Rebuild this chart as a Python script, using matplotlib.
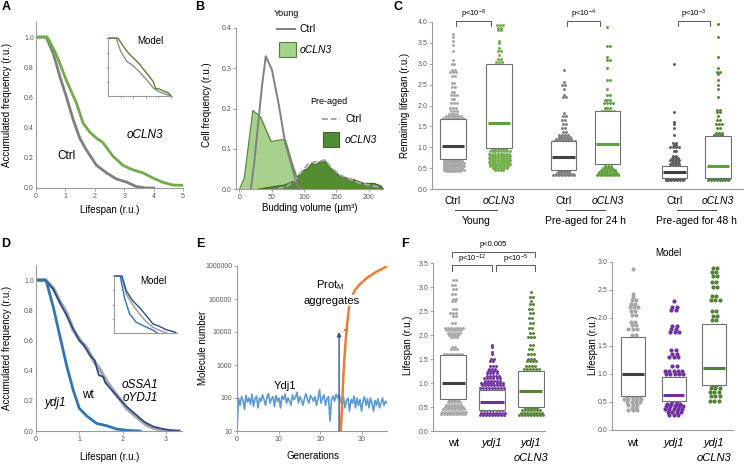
import matplotlib.pyplot as plt
import numpy as np
from matplotlib.lines import Line2D
from matplotlib.patches import Rectangle
from matplotlib.ticker import FormatStrFormatter, NullLocator

plt.rcParams['font.family'] = ['Liberation Sans', 'DejaVu Sans']
plt.rcParams['mathtext.fontset'] = 'custom'
plt.rcParams['mathtext.rm'] = 'Liberation Sans'
plt.rcParams['mathtext.it'] = 'Liberation Sans:italic'

# ---------------- data ----------------
# A: survival curves
a_ctrl_x = [0, 0.35, 0.59, 0.81, 1.04, 1.27, 1.49, 1.72, 2.06, 2.4, 2.73, 3.07, 3.41, 3.75, 4.0]
a_ctrl_y = [1, 1, 0.89, 0.74, 0.60, 0.45, 0.33, 0.25, 0.15, 0.10, 0.06, 0.04, 0.01, 0.0, 0.0]
a_cln3_x = [0, 0.38, 0.47, 0.7, 1.04, 1.38, 1.6, 1.83, 2.06, 2.28, 2.62, 2.96, 3.3, 3.64, 3.98, 4.32, 4.66, 4.94, 5.0]
a_cln3_y = [1, 1, 0.97, 0.88, 0.71, 0.56, 0.43, 0.37, 0.33, 0.30, 0.21, 0.15, 0.12, 0.10, 0.066, 0.037, 0.02, 0.018, 0.018]
# A inset (model, normalised)
ai_ctrl_x = [0, 0.13, 0.2, 0.3, 0.39, 0.5, 0.58, 0.65, 0.72, 0.8, 0.9, 1.0]
ai_ctrl_y = [1, 1, 0.78, 0.6, 0.53, 0.42, 0.32, 0.24, 0.14, 0.08, 0.04, 0.0]
ai_cln3_x = [0, 0.16, 0.25, 0.32, 0.39, 0.48, 0.56, 0.65, 0.72, 0.76, 0.82, 0.9, 0.97, 1.0]
ai_cln3_y = [1, 1, 0.85, 0.75, 0.67, 0.58, 0.47, 0.35, 0.25, 0.13, 0.12, 0.08, 0.05, 0.0]

# B: budding volume distributions
b_yc_x = [18, 23, 35, 41, 50.5, 61, 71, 81.5, 89, 98]
b_yc_y = [0, 0.064, 0.254, 0.33, 0.296, 0.21, 0.114, 0.055, 0.01, 0]
b_yo_x = [0.5, 7.7, 21, 32.5, 49, 63.5, 71, 81.5, 92, 97]
b_yo_y = [0, 0.027, 0.195, 0.18, 0.118, 0.122, 0.122, 0.064, 0.014, 0]
b_pc_x = [60, 75, 85, 95, 107, 120, 133, 141, 155, 170, 185, 200, 215]
b_pc_y = [0, 0.008, 0.02, 0.04, 0.064, 0.068, 0.072, 0.055, 0.035, 0.025, 0.015, 0.01, 0.005]
b_po_x = [30, 50, 70, 85, 97, 105, 112, 118, 125, 132, 141, 156, 177, 192, 208, 218, 222]
b_po_y = [0, 0.005, 0.01, 0.02, 0.045, 0.05, 0.064, 0.06, 0.068, 0.07, 0.051, 0.031, 0.023, 0.014, 0.014, 0.008, 0.0]

# C: remaining lifespan (levels / counts), box stats (q1, median, q3)
c_labels = ['Ctrl', 'oCLN3', 'Ctrl', 'oCLN3', 'Ctrl', 'oCLN3']
c_groups = ['Young', 'Pre-aged for 24 h', 'Pre-aged for 48 h']
c_pvals = [r'p<10$^{-8}$', r'p<10$^{-4}$', r'p<10$^{-3}$']
c_lv = [
    [0.42, 0.46, 0.50, 0.54, 0.58, 0.62, 0.66, 0.70, 0.9, 1.1, 1.3, 1.5, 1.70, 1.75, 1.8, 1.87, 1.95, 2.05, 2.15,
     2.25, 2.33, 2.45, 2.55, 2.7, 2.8, 2.85, 3.0, 3.1, 3.3, 3.45, 3.55, 3.65, 3.72],
    [0.45, 0.5, 0.55, 0.6, 0.65, 0.7, 0.75, 0.8, 0.85, 0.9, 0.95, 1.3, 1.8, 2.4, 3.05, 3.12, 3.2, 3.3, 3.37, 3.5,
     3.55, 3.8, 3.86, 3.92],
    [0.33, 0.36, 0.40, 0.43, 0.7, 1.15, 1.2, 1.25, 1.3, 1.37, 1.45, 1.55, 1.65, 1.75, 1.82, 2.2, 2.25, 2.4, 2.5,
     2.57, 2.85],
    [0.33, 0.37, 0.41, 0.45, 0.5, 0.55, 1.2, 1.88, 1.95, 2.05, 2.12, 2.25, 2.4, 2.6, 2.9, 3.1, 3.17, 3.42, 3.87],
    [0.21, 0.23, 0.25, 0.56, 0.6, 0.65, 0.7, 0.75, 0.8, 0.9, 1.0, 1.05, 1.1, 1.3, 1.45, 1.55, 1.6, 1.85, 3.0],
    [0.21, 0.23, 0.25, 0.8, 1.3, 1.35, 1.45, 1.55, 1.65, 1.75, 1.85, 1.9, 2.2, 2.4, 2.5, 2.6, 2.75, 2.8, 2.9,
     3.15, 3.65, 3.95],
]
c_ct = [
    [6, 8, 7, 8, 7, 8, 7, 6, 6, 6, 6, 5, 8, 6, 4, 3, 3, 3, 2, 3, 2, 2, 2, 2, 3, 2, 2, 1, 1, 1, 1, 1, 1],
    [4, 6, 7, 8, 8, 8, 8, 8, 8, 8, 6, 6, 6, 6, 3, 2, 1, 2, 1, 1, 1, 2, 2, 3],
    [8, 7, 5, 4, 6, 8, 6, 5, 4, 2, 2, 2, 2, 2, 1, 2, 1, 1, 2, 1, 1],
    [8, 8, 7, 6, 4, 3, 6, 5, 3, 4, 3, 2, 1, 2, 1, 2, 1, 2, 1],
    [7, 7, 4, 4, 4, 3, 4, 3, 2, 2, 4, 2, 2, 1, 1, 1, 1, 1, 1],
    [8, 8, 6, 6, 4, 3, 2, 3, 2, 1, 2, 2, 1, 1, 1, 1, 1, 2, 1, 1, 1, 1],
]
c_box = [(0.72, 1.04, 1.68), (0.98, 1.58, 2.99), (0.45, 0.77, 1.14),
         (0.60, 1.08, 1.88), (0.27, 0.40, 0.54), (0.26, 0.55, 1.27)]
c_dot_col = ['#a6a6a6', '#70ad47', '#7f7f7f', '#5fa03c', '#595959', '#4e8a2e']
c_med_col = ['#404040', '#5fa03c', '#404040', '#5fa03c', '#404040', '#5fa03c']

# D: survival curves
d_wt_x = [0, 0.22, 0.4, 0.55, 0.71, 0.86, 1.02, 1.17, 1.32, 1.48, 1.63, 1.78, 1.94, 2.09, 2.25, 2.4, 2.55, 2.71, 2.86, 3.0, 3.3]
d_wt_y = [1, 1, 0.945, 0.86, 0.78, 0.67, 0.6, 0.55, 0.47, 0.405, 0.33, 0.27, 0.21, 0.15, 0.11, 0.075, 0.04, 0.02, 0.01, 0.002, 0]
d_ssa_x = [0, 0.22, 0.4, 0.55, 0.7, 0.85, 1.0, 1.1, 1.25, 1.35, 1.45, 1.55, 1.6, 1.75, 1.9, 2.1, 2.3, 2.5, 2.7, 2.9, 3.0, 3.1, 3.3]
d_ssa_y = [1, 1, 0.94, 0.85, 0.77, 0.68, 0.6, 0.57, 0.5, 0.47, 0.37, 0.36, 0.32, 0.27, 0.22, 0.16, 0.11, 0.06, 0.03, 0.015, 0.01, 0.005, 0]
d_ydj_x = [0, 0.22, 0.25, 0.4, 0.55, 0.71, 0.86, 1.0, 1.17, 1.4, 1.63, 1.86, 2.1, 2.4]
d_ydj_y = [1, 1, 0.98, 0.82, 0.63, 0.43, 0.27, 0.15, 0.10, 0.05, 0.035, 0.013, 0.004, 0]
di_ssa_x = [0, 0.13, 0.2, 0.3, 0.41, 0.52, 0.63, 0.73, 0.84, 1.0]
di_ssa_y = [1, 1, 0.74, 0.57, 0.45, 0.31, 0.16, 0.12, 0.06, 0.01]
di_wt_x = [0, 0.12, 0.2, 0.3, 0.41, 0.52, 0.63, 0.73, 0.85]
di_wt_y = [1, 1, 0.68, 0.5, 0.34, 0.2, 0.1, 0.05, 0.0]
di_ydj_x = [0, 0.1, 0.17, 0.25, 0.36, 0.47, 0.63, 0.7]
di_ydj_y = [1, 1, 0.62, 0.34, 0.19, 0.13, 0.05, 0.0]

# E: molecule numbers over generations
ydj1_val = [10, 100, 60, 110, 85, 45, 120, 75, 100, 65, 130, 55, 95, 115, 50, 100, 80, 125, 90, 60,
            105, 135, 70, 95, 110, 55, 120, 80, 100, 50, 115, 90, 130, 70, 100, 80, 60, 125, 90, 105,
            150, 70, 110, 85, 60, 100, 135, 90, 70, 120, 100, 80, 110, 60, 95, 180, 70, 100, 125, 60,
            95, 110, 20, 90, 115, 80, 130, 100, 125, 90, 60, 110, 50, 85, 100, 40, 90, 70, 115, 50,
            100, 60, 90, 40, 80, 110, 60, 95, 50, 100, 70, 40, 85, 60, 95, 50, 70, 100, 60, 80, 70]
ydj1_gen = np.linspace(0, 36, len(ydj1_val))
protm_gen = [24.9, 25.1, 25.3, 25.5, 25.7, 26.0, 26.3, 26.9, 27.6, 28.3, 29.5, 31.1, 33.5, 35.9]
protm_val = [10, 30, 110, 400, 1130, 4000, 11500, 59000, 120000, 186000, 280000, 427000, 676000, 955000]

# F: lifespan experiment and model
f_lv = [
    [0.35, 0.4, 0.45, 0.5, 0.55, 0.6, 0.65, 1.2, 1.6, 1.7, 1.75, 1.95, 2.0, 2.05, 2.1, 2.15, 2.25, 2.4, 2.45, 2.55,
     2.7, 2.75, 2.85, 2.95, 3.05, 3.15],
    [0.33, 0.38, 0.43, 0.6, 0.9, 0.95, 1.0, 1.05, 1.1, 1.15, 1.2, 1.25, 1.3, 1.35, 1.45, 1.5, 1.6, 1.65, 1.75, 1.8],
    [0.33, 0.38, 0.43, 0.48, 0.9, 1.3, 1.35, 1.45, 1.5, 1.6, 1.7, 1.8, 1.95, 2.05, 2.15, 2.25, 2.35, 2.45, 2.55,
     2.65, 2.7, 2.8, 2.9],
]
f_ct = [
    [9, 9, 8, 7, 6, 5, 4, 7, 7, 3, 2, 3, 4, 5, 6, 7, 2, 2, 3, 2, 2, 2, 2, 2, 2, 2],
    [9, 9, 8, 8, 9, 8, 8, 6, 6, 5, 4, 4, 3, 3, 2, 2, 1, 1, 1, 1],
    [9, 8, 7, 5, 7, 6, 4, 4, 3, 3, 2, 2, 3, 2, 2, 2, 2, 2, 2, 2, 1, 2, 1],
]
f_box = [(0.66, 1.0, 1.58), (0.43, 0.6, 0.85), (0.5, 0.83, 1.25)]
fm_lv = [
    [0.35, 0.4, 0.45, 0.5, 0.55, 0.6, 1.2, 1.7, 1.8, 1.87, 1.93, 2.05, 2.12, 2.2, 2.25, 2.32, 2.37, 2.42, 2.87],
    [0.27, 0.32, 0.37, 0.42, 0.47, 0.52, 0.8, 1.0, 1.05, 1.15, 1.3, 1.35, 1.42, 1.75, 1.8, 1.86, 2.15, 2.2, 2.3],
    [0.52, 0.6, 0.68, 0.75, 0.8, 1.4, 1.97, 2.03, 2.12, 2.32, 2.4, 2.55, 2.65, 2.75, 2.83, 2.9],
]
fm_ct = [
    [3, 2, 3, 4, 5, 4, 4, 2, 3, 2, 2, 2, 2, 3, 2, 2, 1, 1, 1],
    [3, 4, 5, 5, 4, 2, 4, 5, 5, 2, 3, 2, 2, 3, 2, 2, 2, 2, 1],
    [3, 3, 3, 3, 2, 4, 2, 2, 2, 3, 2, 2, 2, 2, 2, 2],
]
fm_box = [(0.6, 1.0, 1.66), (0.52, 0.62, 0.95), (0.8, 1.1, 1.89)]
f_dot_col = ['#a6a6a6', '#7030a0', '#548235']
f_med_col = ['#404040', '#7030a0', '#548235']

# ---------------- helpers ----------------
W, H = 744, 466
SPINE = '#9a9a9a'
TICKC = '#595959'
fig = plt.figure(figsize=(W / 100, H / 100), dpi=100)


def add_ax(l, t, r, b):
    return fig.add_axes([l / W, 1 - b / H, (r - l) / W, (b - t) / H])


def ftext(x, y, s, **kw):
    kw.setdefault('ha', 'center')
    kw.setdefault('va', 'center')
    return fig.text(x / W, 1 - y / H, s, **kw)


def style(ax, xlen=2, ylen=2):
    ax.spines[['top', 'right']].set_visible(False)
    for s in ('left', 'bottom'):
        ax.spines[s].set_color(SPINE)
        ax.spines[s].set_linewidth(0.8)
    ax.tick_params(labelsize=5, labelcolor=TICKC, color=SPINE, width=0.6, pad=1.5)
    ax.tick_params(axis='x', length=xlen)
    ax.tick_params(axis='y', length=ylen)


def row_offsets(vals, sx, d):
    # dots of equal value side by side, centred on the category
    offs = np.zeros(len(vals))
    for k, v in enumerate(np.unique(vals)):
        idx = np.where(vals == v)[0]
        n = len(idx)
        shift = 0.25 * d if (k % 2 and n > 1) else 0.0
        offs[idx] = ((np.arange(n) - (n - 1) / 2) * d + shift) / sx
    return offs


def dot_box(ax, pos, lv, ct, col, q, medc, bw, sx, d, s):
    vals = np.repeat(lv, ct)
    off = row_offsets(vals, sx, d)
    ax.scatter(pos + off, vals, s=s, color=col, lw=0, zorder=2, clip_on=False)
    ax.bar(pos, q[2] - q[0], bottom=q[0], width=bw, color='white', edgecolor='#6f6f6f', lw=0.8, zorder=3)
    ax.hlines(q[1], pos - bw / 2 + 0.03, pos + bw / 2 - 0.03, color=medc, lw=2.2, zorder=4)


def under(ax, x, py, s, top, bot, **kw):
    ax.text(x, (bot - py) / (bot - top), s, transform=ax.get_xaxis_transform(),
            ha='center', va='center', clip_on=False, **kw)


def bracket(ax, x1, x2, pbar, pleg, ptxt, txt, top, bot):
    tr = ax.get_xaxis_transform()
    yb = (bot - pbar) / (bot - top)
    yl = (bot - pleg) / (bot - top)
    ax.plot([x1, x1, x2, x2], [yl, yb, yb, yl], transform=tr, color='#595959', lw=0.7, clip_on=False, zorder=5)
    ax.text((x1 + x2) / 2, (bot - ptxt) / (bot - top), txt, transform=tr, ha='center', va='center',
            fontsize=5.5, clip_on=False)


# ---------------- panel A ----------------
ax = add_ax(36, 22, 183, 188)
style(ax, ylen=0)
ax.plot(a_ctrl_x, a_ctrl_y, color='#7f7f7f', lw=2)
ax.plot(a_cln3_x, a_cln3_y, color='#70ad47', lw=2)
ax.set_xlim(0, 5)
ax.set_ylim(0, 1.1)
ax.set_yticks([0, 0.2, 0.4, 0.6, 0.8, 1.0])
ax.yaxis.set_major_formatter(FormatStrFormatter('%.1f'))
ax.text(1.04, 0.21, 'Ctrl', fontsize=8.5, ha='center', va='center')
ax.text(3.7, 0.35, 'oCLN3', fontsize=8.5, style='italic', ha='center', va='center')
ftext(7, 105, 'Accumulated frequency (r.u.)', rotation=90, fontsize=7)
ftext(110, 210, 'Lifespan (r.u.)', fontsize=7)

axi = add_ax(108, 37, 172, 96)
style(axi, xlen=1.5, ylen=1.5)
axi.plot(ai_ctrl_x, ai_ctrl_y, color='#8c8c8c', lw=1)
axi.plot(ai_cln3_x, ai_cln3_y, color='#548235', lw=1)
axi.set_xlim(0, 1.02)
axi.set_ylim(0, 1.02)
axi.set_xticks([0.2, 0.4, 0.6, 0.8, 1.0])
axi.set_yticks([0.25, 0.5, 0.75, 1.0])
axi.set_xticklabels([])
axi.set_yticklabels([])
ftext(150, 41, 'Model', fontsize=7)

# ---------------- panel B ----------------
ax = add_ax(236, 28, 383, 189)
style(ax)
ax.fill_between(b_yo_x, b_yo_y, color='#a9d18e', zorder=1)
ax.plot(b_yo_x, b_yo_y, color='#548235', lw=0.8, zorder=1.5)
ax.fill_between(b_po_x, b_po_y, color='#548c32', zorder=2)
ax.plot(b_po_x, b_po_y, color='#3d6b22', lw=0.8, zorder=2.5)
ax.plot(b_yc_x, b_yc_y, color='#7f7f7f', lw=1.4, zorder=3)
ax.plot(b_pc_x, b_pc_y, color='#a6a6a6', lw=1.4, ls=(0, (3, 1.5)), zorder=3)
ax.set_xlim(-5, 222)
ax.set_ylim(0, 0.4)
ax.set_xticks([0, 50, 100, 150, 200])
ax.set_yticks([0, 0.1, 0.2, 0.3, 0.4])
ax.yaxis.set_major_formatter(FormatStrFormatter('%.1f'))
ftext(207, 105, 'Cell frequency (r.u.)', rotation=90, fontsize=7)
ftext(310, 208, 'Budding volume (µm³)', fontsize=7)
# legend
ftext(286, 13, 'Young', fontsize=6.5)
fig.add_artist(Line2D([277 / W, 295 / W], [1 - 29 / H] * 2, color='#7f7f7f', lw=1.4))
ftext(300, 29, 'Ctrl', fontsize=7.5, ha='left')
fig.add_artist(Rectangle((279 / W, 1 - 57 / H), 17 / W, 15 / H, facecolor='#a9d18e', edgecolor='#548235', lw=0.8))
ftext(300, 50, 'oCLN3', fontsize=7.5, ha='left', style='italic')
ftext(310, 102, 'Pre-aged', fontsize=6.5, ha='left')
fig.add_artist(Line2D([322 / W, 340 / W], [1 - 119 / H] * 2, color='#a6a6a6', lw=1.4, ls=(0, (3, 1.5))))
ftext(345, 119, 'Ctrl', fontsize=7.5, ha='left')
fig.add_artist(Rectangle((323 / W, 1 - 147 / H), 16 / W, 15 / H, facecolor='#548c32', edgecolor='#3d6b22', lw=0.8))
ftext(345, 140, 'oCLN3', fontsize=7.5, ha='left', style='italic')

# ---------------- panel C ----------------
CT, CB = 22, 189
ax = add_ax(432, CT, 743, CB)
style(ax, xlen=0)
c_pos = [1, 2, 3.4, 4.35, 5.8, 6.75]
for i in range(6):
    dot_box(ax, c_pos[i], c_lv[i], c_ct[i], c_dot_col[i], c_box[i], c_med_col[i],
            0.55, 46.1, 2.9, 4.5)
ax.set_xlim(0.545, 7.29)
ax.set_ylim(0, 4.0)
ax.set_xticks([])
ax.set_yticks(np.arange(0, 4.01, 0.5))
ax.yaxis.set_major_formatter(FormatStrFormatter('%.1f'))
for i in range(6):
    under(ax, c_pos[i], 201, c_labels[i], CT, CB, fontsize=7.5, style='italic' if i % 2 else 'normal')
for g in range(3):
    p1, p2 = c_pos[2 * g], c_pos[2 * g + 1]
    tr = ax.get_xaxis_transform()
    yl = (CB - 210) / (CB - CT)
    ax.plot([p1 + 0.05, p2 - 0.05], [yl, yl], transform=tr, color='#404040', lw=0.7, clip_on=False)
    under(ax, (p1 + p2) / 2, 221, c_groups[g], CT, CB, fontsize=7.5)
    bracket(ax, p1 + 0.07, p2 - 0.17, 20.7, 25.5, 14, c_pvals[g], CT, CB)
ftext(405, 105, 'Remaining lifespan (r.u.)', rotation=90, fontsize=7)

# ---------------- panel D ----------------
ax = add_ax(36, 265, 182, 431)
style(ax, ylen=0)
ax.plot(d_wt_x, d_wt_y, color='#a6a6a6', lw=2.6)
ax.plot(d_ssa_x, d_ssa_y, color='#2f4b8c', lw=1.3)
ax.plot(d_ydj_x, d_ydj_y, color='#2e75b6', lw=2)
ax.set_xlim(0, 3.37)
ax.set_ylim(0, 1.1)
ax.set_xticks([0, 1, 2, 3])
ax.set_yticks([0, 0.2, 0.4, 0.6, 0.8, 1.0])
ax.yaxis.set_major_formatter(FormatStrFormatter('%.1f'))
ax.text(0.44, 0.185, 'ydj1', fontsize=8.5, style='italic', ha='center', va='center')
ax.text(1.2, 0.24, 'wt', fontsize=8.5, ha='center', va='center')
ax.text(2.4, 0.26, 'oSSA1\noYDJ1', fontsize=8.5, style='italic', ha='center', va='center', linespacing=1.1)
ftext(7, 348, 'Accumulated frequency (r.u.)', rotation=90, fontsize=7)
ftext(110, 457, 'Lifespan (r.u.)', fontsize=7)

axi = add_ax(114, 275, 177, 333)
style(axi, xlen=0, ylen=1.5)
axi.plot(di_wt_x, di_wt_y, color='#a6a6a6', lw=1.2)
axi.plot(di_ssa_x, di_ssa_y, color='#2f4b8c', lw=1)
axi.plot(di_ydj_x, di_ydj_y, color='#2e75b6', lw=1)
axi.set_xlim(0, 1.02)
axi.set_ylim(0, 1.02)
axi.set_xticks([])
axi.set_yticks([0.25, 0.5, 0.75, 1.0])
axi.set_yticklabels([])
ftext(153, 281, 'Model', fontsize=7)

# ---------------- panel E ----------------
ax = add_ax(237, 266, 387, 431)
style(ax)
ax.plot(ydj1_gen, ydj1_val, color='#5b9bd5', lw=1.2)
ax.plot(protm_gen, protm_val, color='#ed7d31', lw=1.8)
ax.annotate('', xy=(24.5, 10000), xytext=(24.5, 10),
            arrowprops=dict(arrowstyle='-|>', color='#2f5597', lw=1, mutation_scale=6, shrinkA=0, shrinkB=0))
ax.annotate('', xy=(25.4, 11500), xytext=(26.6, 11500),
            arrowprops=dict(arrowstyle='-|>', color='#ed7d31', lw=1, mutation_scale=5, shrinkA=0, shrinkB=0))
ax.set_yscale('log')
ax.set_xlim(0, 36)
ax.set_ylim(10, 1e6)
ax.set_xticks([0, 10, 20, 30])
ax.set_yticks([10, 100, 1000, 10000, 100000, 1000000])
ax.set_yticklabels(['10', '100', '1000', '10000', '100000', '1000000'])
ax.yaxis.set_minor_locator(NullLocator())
ax.text(11.5, 235, 'Ydj1', fontsize=8, ha='center', va='center')
ftext(203, 348, 'Molecule number', rotation=90, fontsize=7)
ftext(313, 456, 'Generations', fontsize=7)
ftext(330, 285, r'Prot$_\mathregular{M}$', fontsize=8)
ftext(331.5, 300.5, 'aggregates', fontsize=8,
      bbox=dict(facecolor='white', edgecolor='none', pad=0.3))

# ---------------- panel F ----------------
FT, FB = 263, 431
ax = add_ax(433, FT, 545, FB)
style(ax, xlen=0)
f_pos = [1, 2, 3]
for i in range(3):
    dot_box(ax, f_pos[i], f_lv[i], f_ct[i], f_dot_col[i], f_box[i], f_med_col[i],
            0.67, 38.65, 3.0, 4.5)
ax.set_xlim(0.475, 3.37)
ax.set_ylim(0, 3.5)
ax.set_xticks([])
ax.set_yticks(np.arange(0, 3.51, 0.5))
ax.yaxis.set_major_formatter(FormatStrFormatter('%.1f'))
under(ax, 1, 443, 'wt', FT, FB, fontsize=8)
under(ax, 2, 443, 'ydj1', FT, FB, fontsize=8, style='italic')
under(ax, 3, 443, 'ydj1', FT, FB, fontsize=8, style='italic')
under(ax, 3, 458, 'oCLN3', FT, FB, fontsize=8, style='italic')
bracket(ax, 0.97, 3.1, 251.7, 256.7, 244, 'p<0.005', FT, FB)
bracket(ax, 0.97, 2.0, 265, 270.7, 259, r'p<10$^{-12}$', FT, FB)
bracket(ax, 2.1, 3.1, 265, 270.7, 259, r'p<10$^{-5}$', FT, FB)
ftext(408, 345, 'Lifespan (r.u.)', rotation=90, fontsize=7)

MT, MB = 262, 430
ax = add_ax(612, MT, 733, MB)
style(ax, xlen=0)
for i in range(3):
    dot_box(ax, f_pos[i], fm_lv[i], fm_ct[i], f_dot_col[i], fm_box[i], f_med_col[i],
            0.59, 40.75, 4.3, 9)
ax.set_xlim(0.49, 3.46)
ax.set_ylim(0, 3.0)
ax.set_xticks([])
ax.set_yticks(np.arange(0, 3.01, 0.5))
ax.yaxis.set_major_formatter(FormatStrFormatter('%.1f'))
under(ax, 1, 443, 'wt', MT, MB, fontsize=8)
under(ax, 2, 443, 'ydj1', MT, MB, fontsize=8, style='italic')
under(ax, 3, 443, 'ydj1', MT, MB, fontsize=8, style='italic')
under(ax, 3, 458, 'oCLN3', MT, MB, fontsize=8, style='italic')
ftext(668, 253, 'Model', fontsize=7)
ftext(593, 345, 'Lifespan (r.u.)', rotation=90, fontsize=7)

# panel letters
for s, x, y in [('A', 6, 7), ('B', 200, 7), ('C', 398, 7), ('D', 6, 244), ('E', 200, 244), ('F', 405, 244)]:
    ftext(x, y, s, fontsize=9, weight='bold')

fig.savefig('out.png', dpi=100)
